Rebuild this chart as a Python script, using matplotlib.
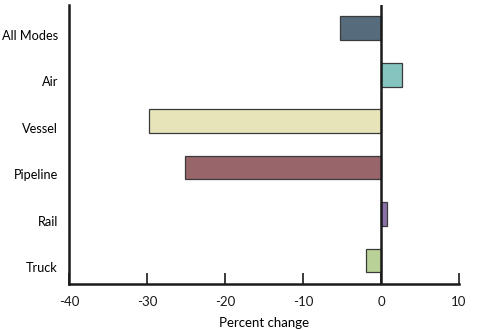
import matplotlib
matplotlib.use("Agg")
import matplotlib.pyplot as plt
import matplotlib.transforms as mtransforms

categories = ["Truck", "Rail", "Pipeline", "Vessel", "Air", "All Modes"]
values = [-1.9, 0.8, -25.1, -29.7, 2.7, -5.3]
colors = ["#b9d096", "#8a72a8", "#98666a", "#e6e4b8", "#86c4c0", "#566c7c"]
xticks = [-40, -30, -20, -10, 0, 10]

plt.rcParams['font.family'] = ['Lato', 'DejaVu Sans']

fig = plt.figure(figsize=(5.0, 3.3), dpi=100)
ax = fig.add_axes([69/500, 1-283.7/330, 390/500, (283.7-5)/330])

ypos = list(range(len(categories)))
ax.barh(ypos, values, height=0.51, color=colors, edgecolor="#3a3a3a", linewidth=0.9, zorder=2)
ax.axvline(0, color="#1a1a1a", linewidth=1.8, zorder=3)

ax.set_xlim(-40, 10)
ax.set_ylim(-0.5, 5.5)
ax.set_xticks(xticks)
ax.set_xticklabels([str(t) for t in xticks], fontsize=9.5)
ax.set_yticks(ypos)
ax.set_yticklabels(categories, fontsize=9.2)
ax.tick_params(axis='x', direction='in', length=8, width=1.2, pad=9, colors="#1a1a1a")
ax.tick_params(axis='y', length=0, pad=8)
offset = mtransforms.ScaledTranslation(0, -6.5/100, fig.dpi_scale_trans)
for lbl in ax.get_yticklabels():
    lbl.set_transform(lbl.get_transform() + offset)
for s in ["top", "right"]:
    ax.spines[s].set_visible(False)
for s in ["left", "bottom"]:
    ax.spines[s].set_linewidth(1.8)
    ax.spines[s].set_color("#1a1a1a")
ax.set_xlabel("Percent change", fontsize=9.5, labelpad=6)

fig.savefig("out.png", dpi=100)
